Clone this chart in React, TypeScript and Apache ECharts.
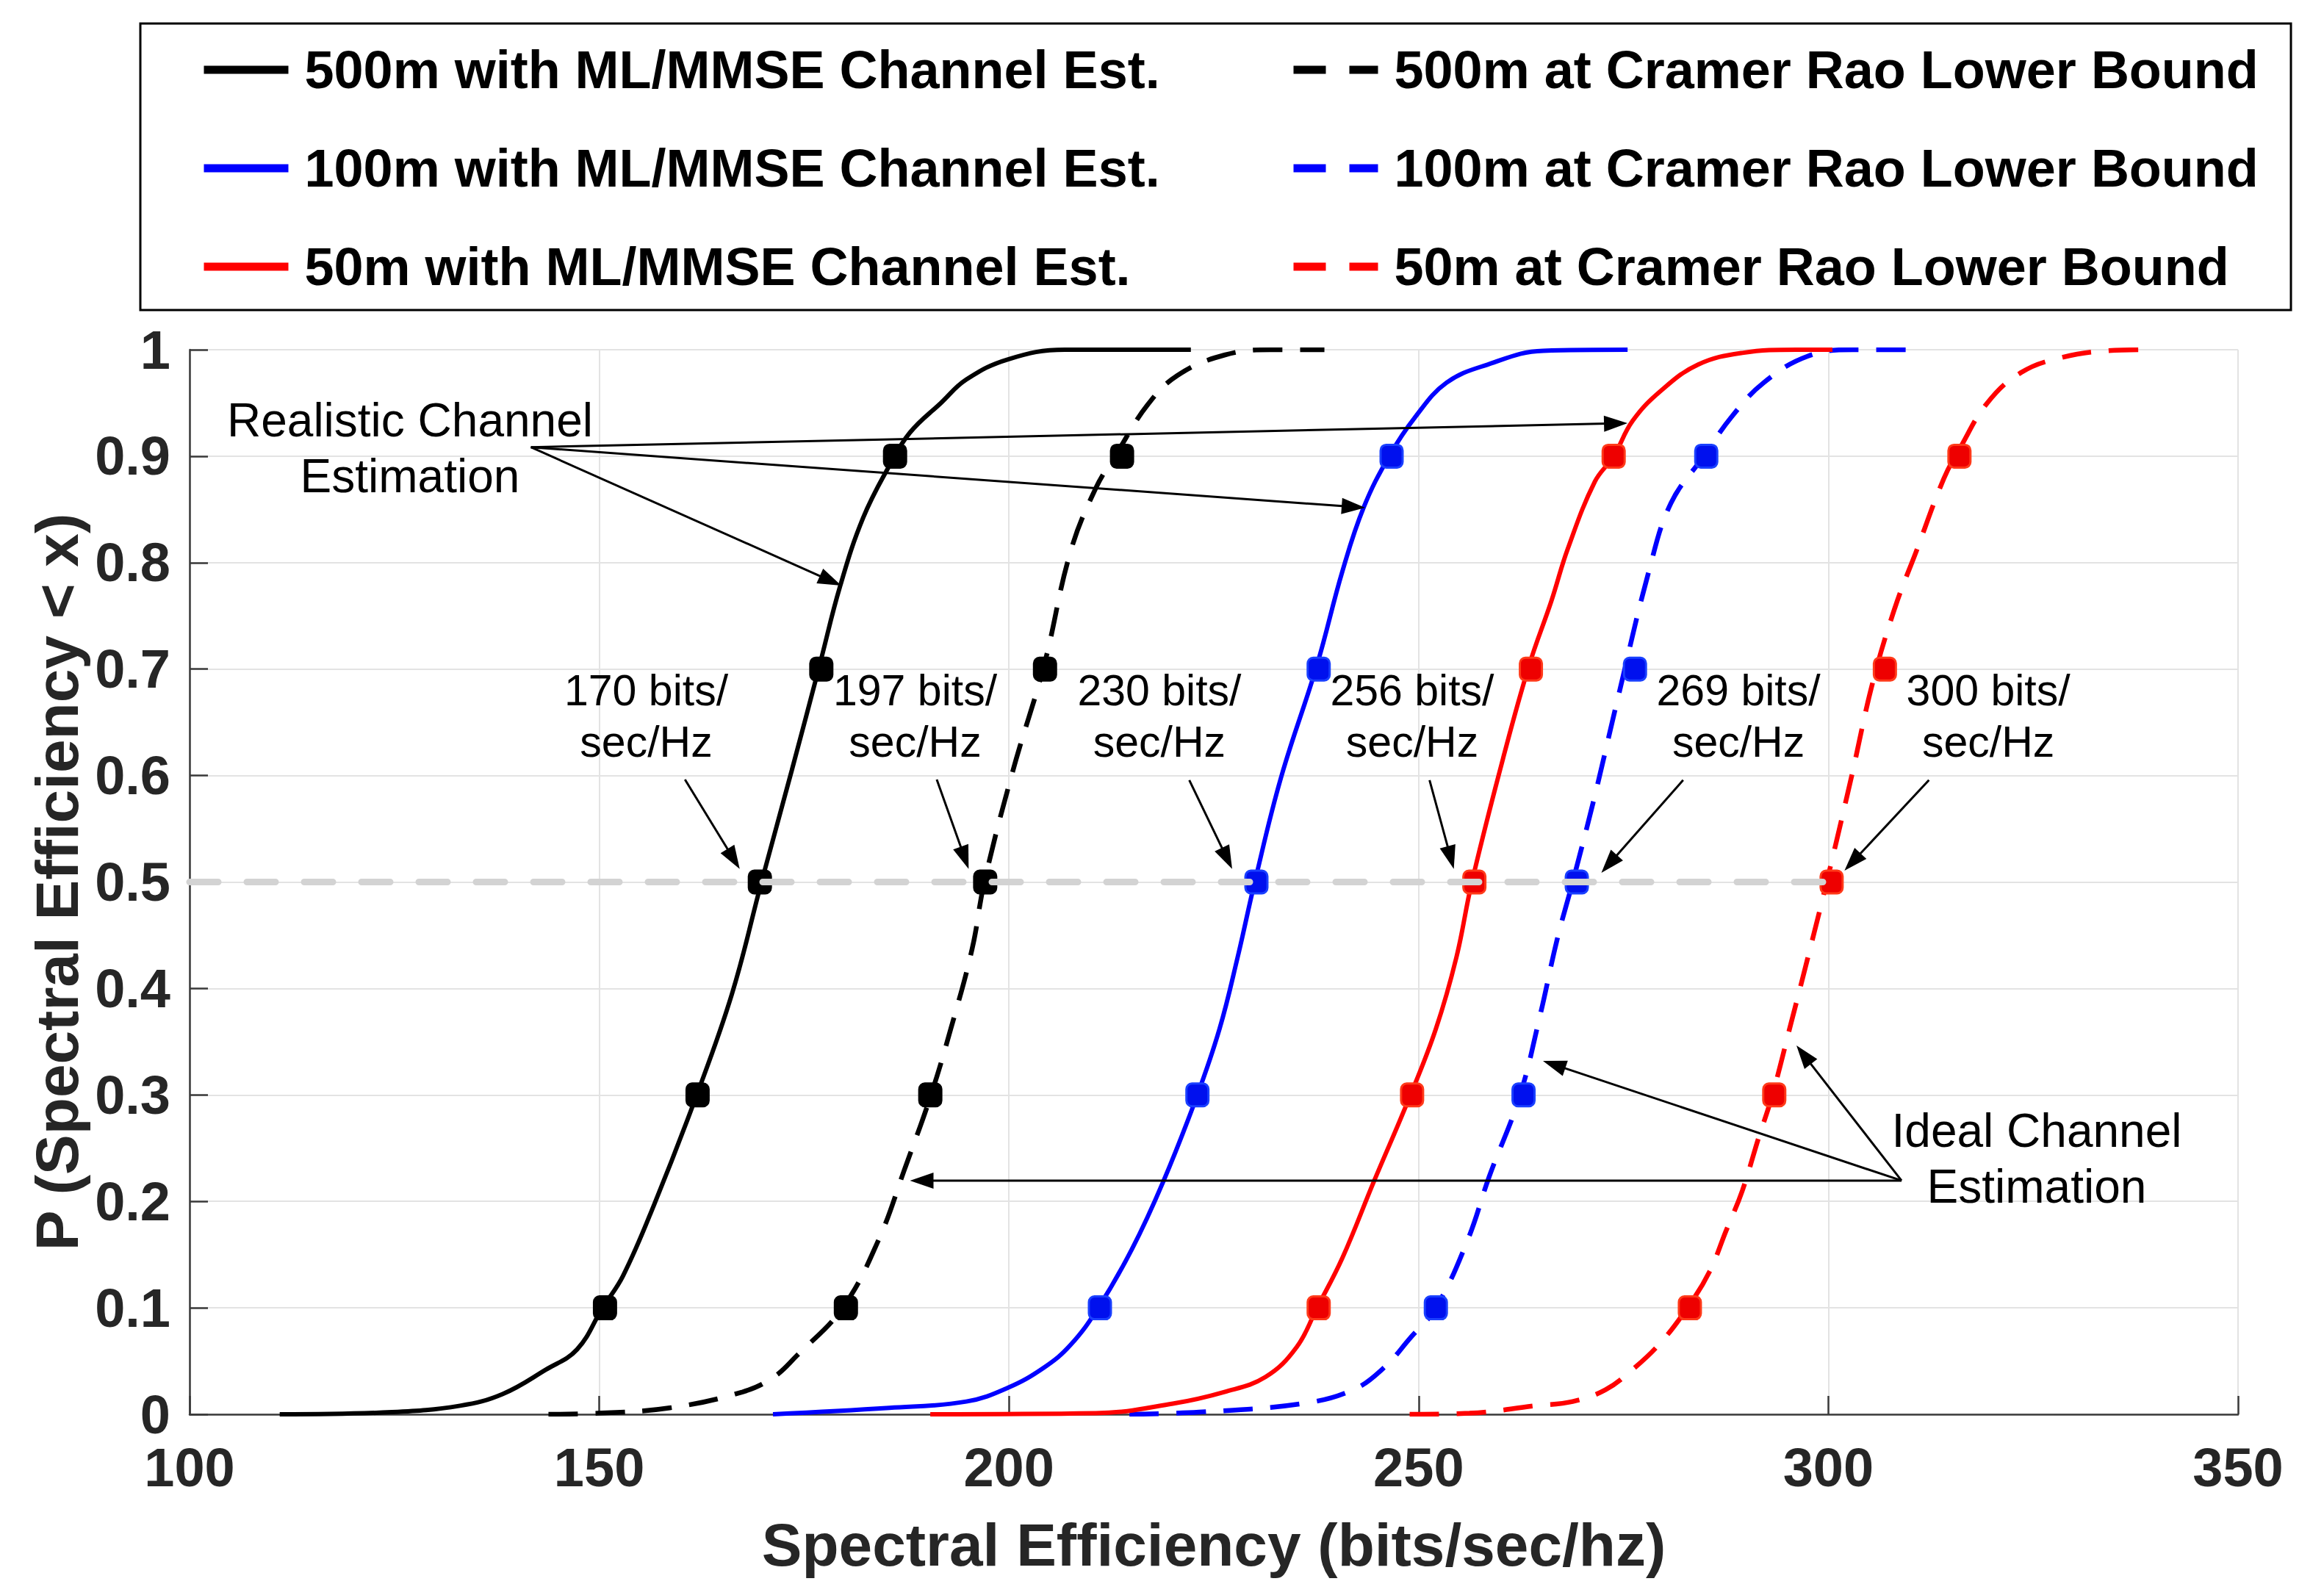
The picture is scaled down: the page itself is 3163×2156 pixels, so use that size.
import React, { useEffect, useRef } from "react";
import * as echarts from "echarts";

// ---------- data ----------
const xTicks = [100, 150, 200, 250, 300, 350];
const yTickLabels = ["0", "0.1", "0.2", "0.3", "0.4", "0.5", "0.6", "0.7", "0.8", "0.9", "1"];

const ml500 = [
  [111.0, 0], [124.7, 0.002], [133.0, 0.008], [138.2, 0.019], [143.5, 0.042], [147.3, 0.061],
  [150.4, 0.1], [152.9, 0.13], [156.7, 0.197], [161.8, 0.298], [166.2, 0.395], [169.8, 0.5],
  [173.5, 0.605], [176.9, 0.704], [179.4, 0.778], [182.2, 0.842], [185.4, 0.891], [187.9, 0.922],
  [191.7, 0.95], [194.8, 0.972], [199.9, 0.991], [206.8, 1.0], [222.2, 1.0],
];
const crlb500 = [
  [143.8, 0], [149.8, 0.001], [158.6, 0.006], [167.5, 0.021], [171.3, 0.035], [174.1, 0.055],
  [179.7, 0.1], [184.1, 0.164], [187.3, 0.231], [190.4, 0.298], [192.9, 0.362], [195.5, 0.437],
  [197.0, 0.5], [200.5, 0.605], [204.3, 0.704], [207.5, 0.81], [210.6, 0.87], [213.1, 0.902],
  [216.9, 0.948], [220.6, 0.976], [226.3, 0.995], [231.9, 1.0], [238.5, 1.0],
];
const ml100 = [
  [171.2, 0], [185.4, 0.006], [194.8, 0.012], [199.9, 0.025], [204.3, 0.044], [207.5, 0.065],
  [210.9, 0.1], [215.0, 0.155], [218.8, 0.218], [222.9, 0.298], [225.7, 0.362], [227.9, 0.429],
  [230.0, 0.5], [233.2, 0.598], [237.6, 0.704], [240.7, 0.792], [243.3, 0.852], [246.4, 0.9],
  [249.6, 0.937], [253.4, 0.969], [258.4, 0.986], [265.2, 0.999], [275.5, 1.0],
];
const ml50 = [
  [190.4, 0], [210.6, 0.001], [220.0, 0.01], [226.3, 0.021], [231.3, 0.035], [235.1, 0.063],
  [237.6, 0.1], [240.7, 0.147], [244.5, 0.218], [248.9, 0.298], [252.1, 0.362], [254.6, 0.429],
  [256.5, 0.5], [260.3, 0.616], [263.5, 0.704], [266.2, 0.764], [268.2, 0.813], [271.5, 0.876],
  [273.8, 0.9], [276.1, 0.933], [279.5, 0.961], [284.1, 0.986], [289.5, 0.997], [296.1, 1.0],
  [300.5, 1.0],
];
const crlb100 = [
  [214.7, 0], [223.2, 0.002], [235.7, 0.01], [242.0, 0.023], [245.8, 0.044], [248.9, 0.071],
  [252.1, 0.1], [256.0, 0.164], [258.6, 0.223], [262.3, 0.298], [264.8, 0.374], [266.9, 0.446],
  [268.8, 0.5], [271.5, 0.581], [274.2, 0.669], [278.1, 0.792], [280.8, 0.856], [284.8, 0.9],
  [288.2, 0.937], [292.1, 0.969], [297.5, 0.994], [303.0, 1.0], [309.7, 1.0],
];
const crlb50 = [
  [248.9, 0], [256.2, 0.001], [264.2, 0.008], [268.8, 0.012], [272.8, 0.023], [276.1, 0.042],
  [279.5, 0.067], [282.8, 0.1], [285.5, 0.134], [287.5, 0.172], [289.5, 0.21], [291.5, 0.26],
  [293.1, 0.298], [295.4, 0.366], [297.5, 0.429], [299.8, 0.5], [302.8, 0.598], [305.4, 0.687],
  [308.1, 0.757], [310.7, 0.81], [314.1, 0.879], [316.1, 0.908], [319.4, 0.95], [323.4, 0.978],
  [328.1, 0.992], [334.0, 0.999], [339.1, 1.0],
];

// square markers at these CDF levels
const markerLevels = [0.1, 0.3, 0.5, 0.7, 0.9];
const ml500Markers = [150.7, 162.0, 169.6, 177.1, 186.1];
const crlb500Markers = [180.1, 190.4, 197.1, 204.4, 213.8];
const ml100Markers = [211.1, 223.0, 230.2, 237.8, 246.7];
const ml50Markers = [237.8, 249.2, 256.8, 263.7, 273.8];
const crlb100Markers = [252.1, 262.8, 269.3, 276.4, 285.1];
const crlb50Markers = [283.1, 293.4, 300.4, 306.9, 316.0];

// median reference line
const medianLineX = [100, 300];
const medianLevel = 0.5;

// annotations (data coordinates)
const bitsValues = [170, 197, 230, 256, 269, 300];
const bitsLabelX = [155.73, 188.55, 218.36, 249.21, 289.03, 319.52];
const bitsLabelY = 0.6556;
const bitsArrowFrom = [[160.46, 0.5963], [191.19, 0.5963], [222.01, 0.5957], [251.33, 0.5957], [282.28, 0.5957], [312.28, 0.5957]];
const bitsArrowTo = [[167.14, 0.5123], [195.08, 0.5123], [227.24, 0.5122], [254.29, 0.5122], [272.3, 0.5087], [301.97, 0.5107]];

const realisticLabel = [126.9, 0.9072];
const realisticFrom = [141.66, 0.9084];
const realisticTo = [[275.49, 0.931], [243.47, 0.8516], [179.54, 0.7785]];

const idealLabel = [325.43, 0.2405];
const idealFrom = [308.93, 0.2195];
const idealTo = [[265.17, 0.332], [296.11, 0.3464], [187.92, 0.2195]];

const FONT = '"Liberation Sans", Arial, Helvetica, sans-serif';

const curveDefs = [
  { name: "500m with ML/MMSE Channel Est.", data: ml500, markers: ml500Markers, color: "#000000", fill: "#000000", border: "#000000", dashed: false },
  { name: "500m at Cramer Rao Lower Bound", data: crlb500, markers: crlb500Markers, color: "#000000", fill: "#000000", border: "#000000", dashed: true },
  { name: "100m with ML/MMSE Channel Est.", data: ml100, markers: ml100Markers, color: "#0000ff", fill: "#0010ee", border: "#1a40ff", dashed: false },
  { name: "100m at Cramer Rao Lower Bound", data: crlb100, markers: crlb100Markers, color: "#0000ff", fill: "#0010ee", border: "#1a40ff", dashed: true },
  { name: "50m with ML/MMSE Channel Est.", data: ml50, markers: ml50Markers, color: "#ff0000", fill: "#ee0000", border: "#ff3a1a", dashed: false },
  { name: "50m at Cramer Rao Lower Bound", data: crlb50, markers: crlb50Markers, color: "#ff0000", fill: "#ee0000", border: "#ff3a1a", dashed: true },
];

export default function App() {
  const ref = useRef<HTMLDivElement>(null);

  useEffect(() => {
    if (!ref.current) return;
    const chart = echarts.init(ref.current, null, { renderer: "svg" });

    const series: any[] = [];
    curveDefs.forEach((d) => {
      series.push({
        type: "line",
        name: d.name,
        data: d.data,
        symbol: "none",
        showSymbol: false,
        smooth: 0.4,
        z: 2,
        lineStyle: { color: d.color, width: d.dashed ? 6.5 : 6, type: d.dashed ? [40, 24] : "solid" },
        itemStyle: { color: d.color },
      });
    });
    curveDefs.forEach((d) => {
      series.push({
        type: "scatter",
        data: d.markers.map((x, i) => [x, markerLevels[i]]),
        symbol: "roundRect",
        symbolSize: [30, 31],
        z: 3,
        itemStyle: { color: d.fill, borderColor: d.border, borderWidth: 3, opacity: 1 },
      });
    });
    series.push({
      type: "line",
      data: medianLineX.map((x) => [x, medianLevel]),
      symbol: "none",
      z: 4,
      silent: true,
      lineStyle: { color: "#d3d3d3", width: 9, type: [39, 39], cap: "round" },
    });

    const legendText = { fontSize: 72, fontWeight: "bold", fontFamily: FONT, color: "#000", lineHeight: 80, padding: [0, 0, 0, 17] };
    const legendCommon = {
      orient: "vertical",
      top: 55,
      padding: 0,
      itemWidth: 115,
      itemHeight: 14,
      itemGap: 54,
      selectedMode: false,
      textStyle: legendText,
      itemStyle: { opacity: 0 },
    };

    const axisColor = "#3a3a3a";
    const labelColor = "#262626";

    const option: any = {
      animation: false,
      backgroundColor: "#ffffff",
      grid: { left: 258, right: 117, top: 476, bottom: 231, containLabel: false },
      legend: [
        { ...legendCommon, left: 272, data: curveDefs.filter((d) => !d.dashed).map((d) => d.name), lineStyle: { width: 11 } },
        { ...legendCommon, left: 1755, data: curveDefs.filter((d) => d.dashed).map((d) => d.name), lineStyle: { width: 11, type: [44, 32] } },
      ],
      xAxis: {
        type: "value",
        min: xTicks[0],
        max: xTicks[xTicks.length - 1],
        interval: 50,
        name: "Spectral Efficiency (bits/sec/hz)",
        nameLocation: "middle",
        nameGap: 136,
        nameTextStyle: { fontSize: 82, fontWeight: "bold", fontFamily: FONT, color: labelColor },
        axisLine: { show: true, lineStyle: { color: axisColor, width: 2.5 } },
        axisTick: { show: true, inside: true, length: 25, lineStyle: { color: axisColor, width: 2.5 } },
        axisLabel: { fontSize: 74, lineHeight: 56, fontWeight: "bold", fontFamily: FONT, color: labelColor, margin: 44 },
        splitLine: { show: true, lineStyle: { color: "#e3e3e3", width: 2 } },
      },
      yAxis: {
        type: "value",
        min: 0,
        max: 1,
        interval: 0.1,
        name: "P (Spectral Efficiency < x)",
        nameLocation: "middle",
        nameRotate: 90,
        nameGap: 139,
        nameTextStyle: { fontSize: 82, lineHeight: 82, fontWeight: "bold", fontFamily: FONT, color: labelColor },
        axisLine: { show: true, lineStyle: { color: axisColor, width: 2.5 } },
        axisTick: { show: true, inside: true, length: 25, lineStyle: { color: axisColor, width: 2.5 } },
        axisLabel: {
          fontSize: 74,
          lineHeight: 56,
          fontWeight: "bold",
          fontFamily: FONT,
          color: labelColor,
          margin: 26,
          formatter: (v: number) => yTickLabels[Math.round(v * 10)] ?? String(v),
        },
        splitLine: { show: true, lineStyle: { color: "#e3e3e3", width: 2 } },
      },
      series,
    };

    chart.setOption(option);

    const px = (p: number[]) => chart.convertToPixel({ gridIndex: 0 } as any, p) as number[];
    const elements: any[] = [];

    elements.push({
      type: "rect",
      z: 0,
      shape: { x: 191, y: 32, width: 2927, height: 390 },
      style: { fill: "none", stroke: "#000", lineWidth: 3 },
    });

    const addArrow = (from: number[], to: number[]) => {
      const a = px(from);
      const b = px(to);
      const dx = b[0] - a[0];
      const dy = b[1] - a[1];
      const len = Math.sqrt(dx * dx + dy * dy);
      const ux = dx / len;
      const uy = dy / len;
      const L = 32;
      const hw = 11;
      const bx = b[0] - ux * L;
      const by = b[1] - uy * L;
      elements.push({
        type: "line",
        z: 100,
        shape: { x1: a[0], y1: a[1], x2: bx + ux * 4, y2: by + uy * 4 },
        style: { stroke: "#000", lineWidth: 3 },
      });
      elements.push({
        type: "polygon",
        z: 100,
        shape: { points: [[b[0], b[1]], [bx - uy * hw, by + ux * hw], [bx + uy * hw, by - ux * hw]] },
        style: { fill: "#000" },
      });
    };

    const addText = (pos: number[], text: string, size: number, lh: number) => {
      const p = px(pos);
      elements.push({
        type: "text",
        z: 100,
        x: p[0],
        y: p[1],
        style: {
          text,
          fill: "#000",
          fontSize: size,
          fontFamily: FONT,
          align: "center",
          verticalAlign: "middle",
          lineHeight: lh,
        },
      });
    };

    bitsValues.forEach((v, i) => {
      addText([bitsLabelX[i], bitsLabelY], `${v} bits/\nsec/Hz`, 59, 70);
      addArrow(bitsArrowFrom[i], bitsArrowTo[i]);
    });

    addText(realisticLabel, "Realistic Channel\nEstimation", 64, 76);
    realisticTo.forEach((t) => addArrow(realisticFrom, t));

    addText(idealLabel, "Ideal Channel\nEstimation", 64, 76);
    idealTo.forEach((t) => addArrow(idealFrom, t));

    chart.setOption({ graphic: elements });

    return () => chart.dispose();
  }, []);

  return (
    <div
      ref={ref}
      style={{ position: "absolute", left: 0, top: 0, width: 3163, height: 2156, background: "#fff" }}
    />
  );
}
